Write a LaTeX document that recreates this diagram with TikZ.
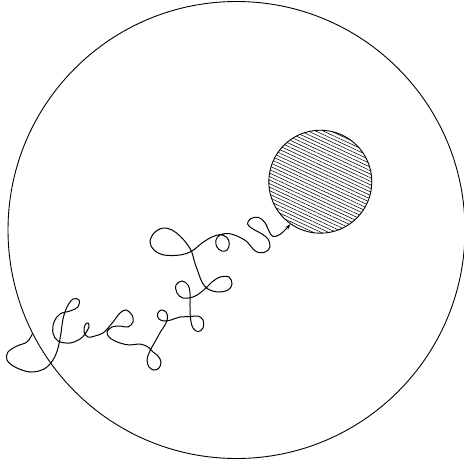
\documentclass[tikz,border=0pt]{standalone}
\usepackage{tikz}
\usetikzlibrary{
  arrows.meta,
  patterns.meta,
  positioning
}

\begin{document}
\begin{tikzpicture}[
  x=1pt, y=-1pt,
  outerdisk/.style={circle, draw=black, line width=0.9pt, inner sep=0pt, minimum size=457pt},
  innerdisk/.style={circle, draw=black, line width=0.9pt, inner sep=0pt, minimum size=103pt, pattern={Lines[angle=-25, distance=3.2pt, line width=0.55pt]}, pattern color=black},
  walk/.style={line width=1pt, -{Stealth[length=6pt, width=3.8pt]}}
]
\useasboundingbox (0,0) rectangle (464,464);

% Region and absorbing ball
\node[outerdisk] (region) at (236.5,230) {};
\node[innerdisk] (ball) at (320.3,181.7) {};

% Entry point on the boundary
\coordinate (entry) at (32.3,334);

% Random walk into the ball
\draw[walk] plot[smooth, tension=0.6] coordinates {
  (entry) (27,342) (17,346) (8,352) (7,360) (15,367) (30,372) (44,369)
  (53,360) (58,348) (61,333) (63,319) (67,307) (73,299) (79,300) (78,307)
  (70,311) (60,314) (54,322) (53,333) (58,341) (70,343) (80,339)
  (85,334) (89,327) (88,323) (85,325) (84,332) (88,337) (95,336)
  (103,333) (108,328) (113,322) (120,313) (126,310) (132,315) (133,322)
  (128,327) (120,326) (112,327) (107,332) (110,338) (120,343) (130,345)
  (140,344) (148,347) (153,352) (158,356) (161,362) (159,368) (154,370)
  (149,367) (147,360) (149,353) (152,347) (156,340) (161,331) (165,325)
  (167.5,318) (166,312) (161,310) (157.5,314) (159,319) (164,321) (171,320)
  (180,317) (190,316.7) (198,316) (203,320) (203,328) (198,331.7) (193,328)
  (190.7,320) (190,307) (190,293) (188,285) (182,281) (176,285) (177,293)
  (183,298) (193,297) (200,293) (207,287) (212,282) (220,277) (229,277)
  (232,284) (228,290) (218,292) (208,289) (202,282) (197,269) (194,260)
  (191.7,251.7) (187,244) (180,236) (172,230) (163,228) (154,233) (150,242)
  (154,250) (164,255) (180,255) (192,251) (202,243) (212,237) (220,234.7)
  (226.7,237.3) (229.3,243.3) (227.3,250) (221.7,251) (216.7,246.7) (216,240)
  (220,235) (228,233.5) (237,236) (247,241.7) (253,249) (259,252.7) (266,251.7)
  (270,246.7) (268,239) (262,234) (253,229) (247.5,224) (250.7,218.7)
  (258.3,217.3) (265,222.7) (269.3,231.7) (273,236.5) (278.3,235.3) (283,232)
  (ball.235)
};

\end{tikzpicture}
\end{document}
